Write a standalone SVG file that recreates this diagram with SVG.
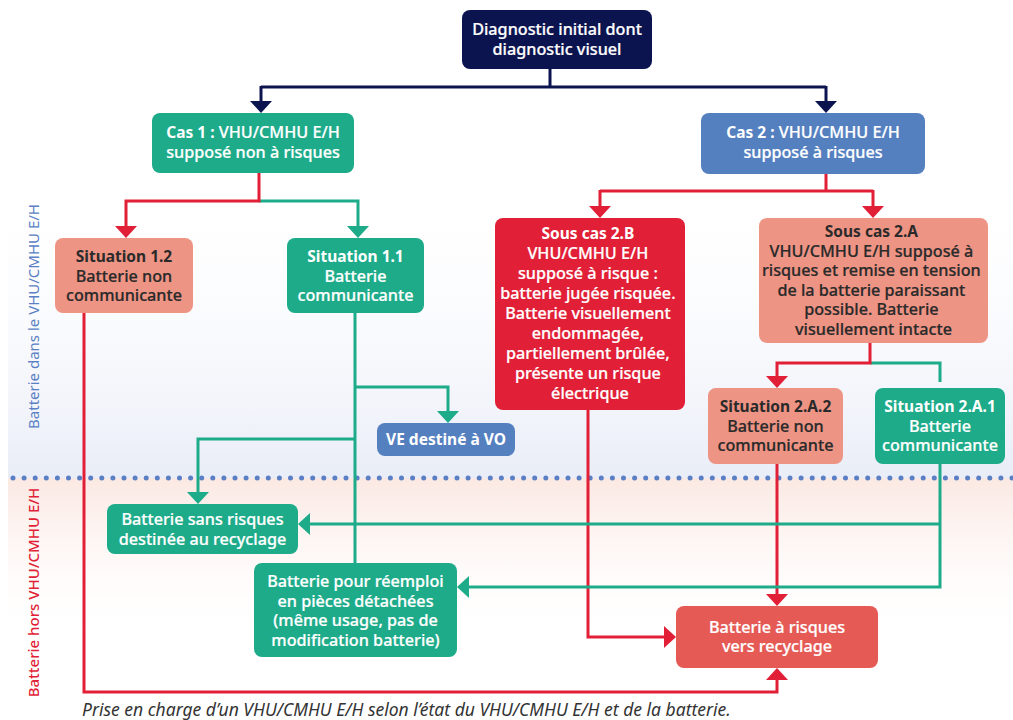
<svg xmlns="http://www.w3.org/2000/svg" width="1013" height="720" viewBox="0 0 1013 720">
  <defs>
    <linearGradient id="zoneIn" x1="0" y1="0" x2="0" y2="1">
      <stop offset="0" stop-color="#ffffff" stop-opacity="0"/>
      <stop offset="1" stop-color="#e9edf7"/>
    </linearGradient>
    <linearGradient id="zoneOut" x1="0" y1="0" x2="0" y2="1">
      <stop offset="0" stop-color="#fbe8e2"/>
      <stop offset="1" stop-color="#ffffff" stop-opacity="0"/>
    </linearGradient>
    <marker id="arrNavy" viewBox="0 0 12 22" refX="6" refY="11" markerWidth="12" markerHeight="22" markerUnits="userSpaceOnUse" orient="auto">
      <path d="M0,0 L12,11 L0,22 Z" fill="#0c1450"/>
    </marker>
    <marker id="arrRed" viewBox="0 0 12 22" refX="6" refY="11" markerWidth="12" markerHeight="22" markerUnits="userSpaceOnUse" orient="auto">
      <path d="M0,0 L12,11 L0,22 Z" fill="#e11f37"/>
    </marker>
    <marker id="arrGreen" viewBox="0 0 12 22" refX="6" refY="11" markerWidth="12" markerHeight="22" markerUnits="userSpaceOnUse" orient="auto">
      <path d="M0,0 L12,11 L0,22 Z" fill="#1dab8a"/>
    </marker>
  </defs>
  <style>
    text { font-family: "Noto Sans", "Open Sans", sans-serif; font-size: 16.2px; text-anchor: middle; }
    .w { fill: #ffffff; stroke: #ffffff; stroke-width: 0.22px; font-weight: 500; }
    .d { fill: #2a2a2a; stroke: #2a2a2a; stroke-width: 0.22px; font-weight: 500; }
    .b { font-weight: 700; font-size: 15.5px; stroke-width: 0; }
    .navy { fill: #0c1450; }
    .green { fill: #1dab8a; }
    .blue { fill: #5580c0; }
    .salmon { fill: #ee9484; }
    .red { fill: #e11f37; }
    .coral { fill: #e55a55; }
    .ln { fill: none; stroke-width: 3; }
    .lnNavy { stroke: #0c1450; }
    .lnRed { stroke: #e11f37; }
    .lnGreen { stroke: #1dab8a; }
    .side { font-size: 15px; }
    .caption { font-style: italic; font-size: 17.5px; fill: #333333; text-anchor: start; }
  </style>

  <!-- background zones -->
  <rect x="8" y="170" width="1005" height="308" fill="url(#zoneIn)"/>
  <rect x="8" y="478" width="1005" height="170" fill="url(#zoneOut)"/>
  <line x1="13" y1="478" x2="1013" y2="478" stroke="#5a7fc4" stroke-width="5" stroke-linecap="round" stroke-dasharray="0 11.1"/>

  <!-- side labels -->
  <text class="side" x="33" y="322" transform="rotate(-90 33 316.5)" fill="#5a7fc4">Batterie dans le VHU/CMHU E/H</text>
  <text class="side" x="33" y="598" transform="rotate(-90 33 592.5)" fill="#e11f37" font-weight="500" font-size="14.6">Batterie hors VHU/CMHU E/H</text>

  <!-- connectors -->
  <g id="connectors">
    <path class="ln lnNavy" d="M550,69 V87 M261,87 H826"/>
    <path class="ln lnNavy" d="M261,86 V107" marker-end="url(#arrNavy)"/>
    <path class="ln lnNavy" d="M826,86 V107" marker-end="url(#arrNavy)"/>

    <path class="ln lnGreen" d="M259,201 H358 V232" marker-end="url(#arrGreen)"/>
    <path class="ln lnRed" d="M259,173 V201 H126 V232" marker-end="url(#arrRed)"/>

    <path class="ln lnRed" d="M84,313 V692 H777 V674" marker-end="url(#arrRed)"/>

    <path class="ln lnGreen" d="M355,313 V563"/>
    <path class="ln lnGreen" d="M355,387 H448 V417" marker-end="url(#arrGreen)"/>
    <path class="ln lnGreen" d="M355,439 H198 V498" marker-end="url(#arrGreen)"/>

    <path class="ln lnRed" d="M826,174 V191 M600,191 H873"/>
    <path class="ln lnRed" d="M600,190 V212" marker-end="url(#arrRed)"/>
    <path class="ln lnRed" d="M873,190 V212" marker-end="url(#arrRed)"/>

    <path class="ln lnRed" d="M588,410 V637 H670" marker-end="url(#arrRed)"/>

    <path class="ln lnGreen" d="M870,363 H940 V382"/>
    <path class="ln lnRed" d="M870,343 V363 H777 V382" marker-end="url(#arrRed)"/>

    <path class="ln lnRed" d="M777,464 V600" marker-end="url(#arrRed)"/>

    <path class="ln lnGreen" d="M940,464 V587 H463" marker-end="url(#arrGreen)"/>
    <path class="ln lnGreen" d="M940,524 H304" marker-end="url(#arrGreen)"/>
  </g>

  <!-- nodes -->
  <g id="diag">
    <rect class="navy" x="462" y="10" width="190" height="59" rx="8"/>
    <text class="w"><tspan x="557" y="35">Diagnostic initial dont</tspan><tspan x="557" y="55">diagnostic visuel</tspan></text>
  </g>

  <g id="cas1">
    <rect class="green" x="152" y="113" width="202" height="60" rx="8"/>
    <text class="w"><tspan x="253" y="138"><tspan class="b">Cas 1 :</tspan> VHU/CMHU E/H</tspan><tspan x="253" y="158">supposé non à risques</tspan></text>
  </g>

  <g id="cas2">
    <rect class="blue" x="701" y="113" width="224" height="61" rx="8"/>
    <text class="w"><tspan x="813" y="138"><tspan class="b">Cas 2 :</tspan> VHU/CMHU E/H</tspan><tspan x="813" y="158">supposé à risques</tspan></text>
  </g>

  <g id="sit12">
    <rect class="salmon" x="55" y="238" width="138" height="75" rx="8"/>
    <text class="d"><tspan class="b" x="124" y="262">Situation 1.2</tspan><tspan x="124" y="282">Batterie non</tspan><tspan x="124" y="301">communicante</tspan></text>
  </g>

  <g id="sit11">
    <rect class="green" x="287" y="238" width="137" height="75" rx="8"/>
    <text class="w"><tspan class="b" x="355.5" y="262">Situation 1.1</tspan><tspan x="355.5" y="282">Batterie</tspan><tspan x="355.5" y="301">communicante</tspan></text>
  </g>

  <g id="sous2b">
    <rect class="red" x="495" y="218" width="190" height="192" rx="8"/>
    <text class="w">
      <tspan class="b" x="590" y="239">Sous cas 2.B</tspan>
      <tspan x="590" y="259">VHU/CMHU E/H</tspan>
      <tspan x="590" y="279">supposé à risque :</tspan>
      <tspan x="590" y="299">batterie jugée risquée.</tspan>
      <tspan x="590" y="319">Batterie visuellement</tspan>
      <tspan x="590" y="339">endommagée,</tspan>
      <tspan x="590" y="359">partiellement brûlée,</tspan>
      <tspan x="590" y="379">présente un risque</tspan>
      <tspan x="590" y="399">électrique</tspan>
    </text>
  </g>

  <g id="sous2a">
    <rect class="salmon" x="759" y="218" width="229" height="125" rx="8"/>
    <text class="d">
      <tspan class="b" x="873.5" y="237">Sous cas 2.A</tspan>
      <tspan x="873.5" y="256.5">VHU/CMHU E/H supposé à</tspan>
      <tspan x="873.5" y="276">risques et remise en tension</tspan>
      <tspan x="873.5" y="295.5">de la batterie paraissant</tspan>
      <tspan x="873.5" y="315">possible. Batterie</tspan>
      <tspan x="873.5" y="334.5">visuellement intacte</tspan>
    </text>
  </g>

  <g id="sit2a2">
    <rect class="salmon" x="708" y="388" width="135" height="76" rx="8"/>
    <text class="d"><tspan class="b" x="775.5" y="412">Situation 2.A.2</tspan><tspan x="775.5" y="431.5">Batterie non</tspan><tspan x="775.5" y="451">communicante</tspan></text>
  </g>

  <g id="sit2a1">
    <rect class="green" x="875" y="388" width="130" height="76" rx="8"/>
    <text class="w"><tspan class="b" x="940" y="412">Situation 2.A.1</tspan><tspan x="940" y="431.5">Batterie</tspan><tspan x="940" y="451">communicante</tspan></text>
  </g>

  <g id="vevo">
    <rect class="blue" x="377" y="423" width="138" height="33" rx="8"/>
    <text class="w"><tspan class="b" x="446" y="445">VE destiné à VO</tspan></text>
  </g>

  <g id="sansrisques">
    <rect class="green" x="107" y="504" width="191" height="50" rx="8"/>
    <text class="w"><tspan x="202.5" y="525">Batterie sans risques</tspan><tspan x="202.5" y="545">destinée au recyclage</tspan></text>
  </g>

  <g id="reemploi">
    <rect class="green" x="254" y="563" width="203" height="94" rx="8"/>
    <text class="w"><tspan x="355.5" y="587">Batterie pour réemploi</tspan><tspan x="355.5" y="606.5">en pièces détachées</tspan><tspan x="355.5" y="626">(même usage, pas de</tspan><tspan x="355.5" y="645.5">modification batterie)</tspan></text>
  </g>

  <g id="arisques">
    <rect class="coral" x="676" y="606" width="202" height="62" rx="8"/>
    <text class="w"><tspan x="777" y="633">Batterie à risques</tspan><tspan x="777" y="652">vers recyclage</tspan></text>
  </g>

  <text class="caption" x="82" y="716">Prise en charge d’un VHU/CMHU E/H selon l’état du VHU/CMHU E/H et de la batterie.</text>
</svg>
